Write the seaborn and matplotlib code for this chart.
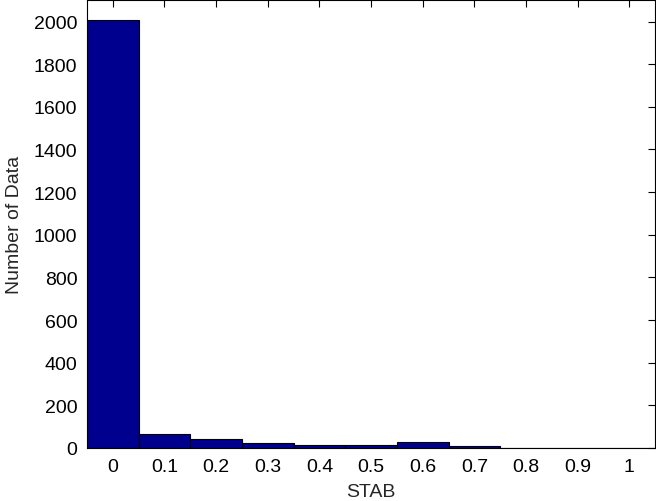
import numpy as np
import pandas as pd
import matplotlib
matplotlib.use("Agg")
import matplotlib.pyplot as plt
import seaborn as sns

# bin centres and counts
stab_centers = [0.0, 0.1, 0.2, 0.3, 0.4, 0.5, 0.6, 0.7, 0.8, 0.9, 1.0]
stab_counts = [2005, 66, 44, 23, 16, 16, 28, 9, 0, 0, 0]
x_ticks = [0, 0.1, 0.2, 0.3, 0.4, 0.5, 0.6, 0.7, 0.8, 0.9, 1]
x_tick_labels = ["0", "0.1", "0.2", "0.3", "0.4", "0.5", "0.6", "0.7", "0.8", "0.9", "1"]
y_ticks = [0, 200, 400, 600, 800, 1000, 1200, 1400, 1600, 1800, 2000]

df = pd.DataFrame({"STAB": stab_centers, "count": stab_counts})

sns.set_style("white")
plt.rcParams["font.family"] = ["Liberation Sans", "DejaVu Sans"]

fig = plt.figure(figsize=(6.56, 5.02), dpi=100)
ax = fig.add_axes([0.1326, 0.1056, 0.866, 0.892])

sns.histplot(data=df, x="STAB", weights="count", binwidth=0.1,
             binrange=(-0.05, 1.05), ax=ax,
             color="#00008f", edgecolor="black", linewidth=0.8, alpha=1.0)

ax.set_xlim(-0.05, 1.05)
ax.set_ylim(0, 2100)
ax.set_xticks(x_ticks)
ax.set_xticklabels(x_tick_labels)
ax.set_yticks(y_ticks)
ax.tick_params(direction="in", length=5, width=0.8, top=True, right=True,
               labelsize=14, pad=7, colors="black")
for s in ax.spines.values():
    s.set_visible(True)
    s.set_color("black")
    s.set_linewidth(0.8)

ax.set_xlabel("STAB", fontsize=14, labelpad=6)
ax.set_ylabel("Number of Data", fontsize=14, labelpad=8)

fig.savefig("out.png", dpi=100)
